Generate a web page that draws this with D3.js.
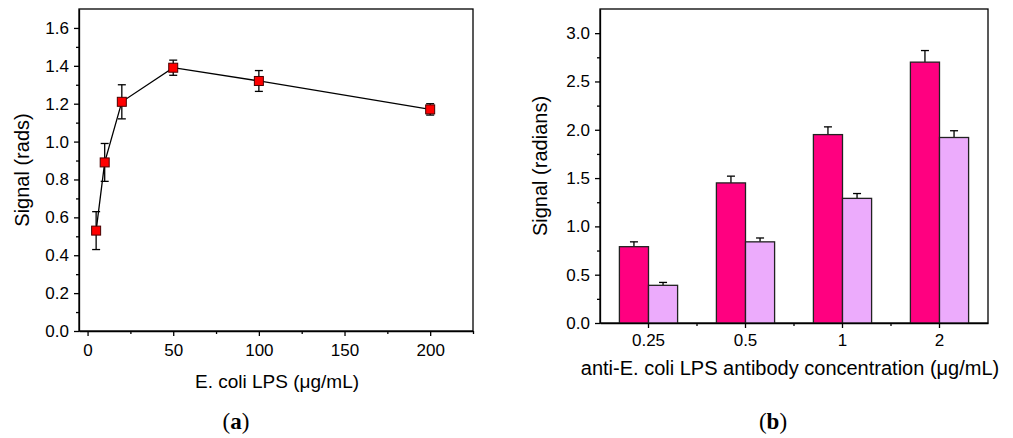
<!DOCTYPE html>
<html>
<head>
<meta charset="utf-8">
<script src="https://cdn.jsdelivr.net/npm/d3@7"></script>
<style>
    body { margin: 0; background: #fff; }
    svg { display: block; font-family: "Liberation Sans", Arial, sans-serif; }
    .axis path, .axis line { stroke: #000; stroke-width: 1.3; }
    .axis text { font-size: 17px; fill: #000; font-family: "Liberation Sans", Arial, sans-serif; }
    .title { font-size: 19px; fill: #000; }
    .title--wide { font-size: 20px; }
    .title--y { font-size: 20px; }
    .panelLabel { font-family: "Liberation Serif", "Times New Roman", serif; font-size: 23px; }
</style>
</head>
<body>
<svg id="chart" width="1013" height="438"></svg>
<script>
// ----- DATA -----------------------------------------------------------
// panel (a): signal vs E. coli LPS concentration
const lpsConc   = [5, 10, 20, 50, 100, 200];
const lpsSignal = [0.53, 0.89, 1.21, 1.39, 1.32, 1.17];
const lpsError  = [0.10, 0.10, 0.09, 0.04, 0.055, 0.03];
const aXTicks   = [0, 50, 100, 150, 200];
const aYTicks   = [0, 0.2, 0.4, 0.6, 0.8, 1.0, 1.2, 1.4, 1.6];

// panel (b): signal vs antibody concentration, two series
const antibodyConc = ["0.25", "0.5", "1", "2"];
const seriesPink     = [0.79, 1.45, 1.95, 2.70];
const seriesPinkErr  = [0.05, 0.07, 0.08, 0.12];
const seriesLilac    = [0.39, 0.84, 1.29, 1.92];
const seriesLilacErr = [0.03, 0.04, 0.05, 0.07];
const bYTicks = [0, 0.5, 1.0, 1.5, 2.0, 2.5, 3.0];

const svg = d3.select("#chart");

function panelLabel( g, x, letter )
{
    let lab = g.append("text").attr("class", "panelLabel")
        .attr("x", x).attr("y", 429).attr("text-anchor", "middle");
    lab.append("tspan").text("(");
    lab.append("tspan").attr("font-weight", "bold").text(letter);
    lab.append("tspan").text(")");
}

// ----- PANEL A --------------------------------------------------------
function drawPanelA()
{
    const box = { left: 79, right: 473, top: 9, bottom: 331 };

    let x = d3.scaleLinear().domain([-5, 225]).range([box.left, box.right]);
    let y = d3.scaleLinear().domain([0, 1.7]).range([box.bottom, box.top]);

    let g = svg.append("g");

    // frame (top & right lines)
    g.append("rect")
        .attr("x", box.left).attr("y", box.top)
        .attr("width", box.right - box.left).attr("height", box.bottom - box.top)
        .attr("fill", "none").attr("stroke", "#000").attr("stroke-width", 1.3);

    // minor ticks
    g.append("g").attr("class", "axis")
        .attr("transform", "translate(0," + box.bottom + ")")
        .call(d3.axisBottom(x).tickValues([25, 75, 125, 175, 225]).tickSize(3).tickFormat(""))
        .select(".domain").remove();
    g.append("g").attr("class", "axis")
        .attr("transform", "translate(" + box.left + ",0)")
        .call(d3.axisLeft(y).tickValues(d3.range(0.1, 1.7, 0.2)).tickSize(3).tickFormat(""))
        .select(".domain").remove();

    g.append("g").attr("class", "axis")
        .attr("transform", "translate(0," + box.bottom + ")")
        .call(d3.axisBottom(x).tickValues(aXTicks).tickSize(5).tickPadding(5).tickSizeOuter(0))
        .selectAll("text").attr("dy", "0.88em");
    g.append("g").attr("class", "axis")
        .attr("transform", "translate(" + box.left + ",0)")
        .call(d3.axisLeft(y).tickValues(aYTicks).tickSize(5).tickPadding(5).tickSizeOuter(0)
            .tickFormat(d3.format(".1f")));

    // connecting line
    const pts = lpsConc.map((c, i) => [c, lpsSignal[i], lpsError[i]]);
    g.append("path")
        .datum(pts)
        .attr("fill", "none").attr("stroke", "#000").attr("stroke-width", 1.3)
        .attr("d", d3.line().x(d => x(d[0])).y(d => y(d[1])));

    // error bars
    let eb = g.selectAll(".eb").data(pts).enter().append("g")
        .attr("stroke", "#000").attr("stroke-width", 1.3);
    eb.append("line")
        .attr("x1", d => x(d[0])).attr("x2", d => x(d[0]))
        .attr("y1", d => y(d[1] - d[2])).attr("y2", d => y(d[1] + d[2]));
    eb.append("line")
        .attr("x1", d => x(d[0]) - 4).attr("x2", d => x(d[0]) + 4)
        .attr("y1", d => y(d[1] + d[2])).attr("y2", d => y(d[1] + d[2]));
    eb.append("line")
        .attr("x1", d => x(d[0]) - 4).attr("x2", d => x(d[0]) + 4)
        .attr("y1", d => y(d[1] - d[2])).attr("y2", d => y(d[1] - d[2]));

    // square markers
    g.selectAll(".marker").data(pts).enter().append("rect")
        .attr("x", d => x(d[0]) - 4.5).attr("y", d => y(d[1]) - 4.5)
        .attr("width", 9).attr("height", 9)
        .attr("fill", "#ff0000").attr("stroke", "#4a0000").attr("stroke-width", 1);

    g.append("text").attr("class", "title")
        .attr("x", 277).attr("y", 388)
        .attr("text-anchor", "middle")
        .text("E. coli LPS (μg/mL)");

    g.append("text").attr("class", "title title--y")
        .attr("transform", "translate(29," + ((box.top + box.bottom) / 2) + ") rotate(-90)")
        .attr("text-anchor", "middle")
        .text("Signal (rads)");

    panelLabel( g, 236, "a" );
}

// ----- PANEL B --------------------------------------------------------
function drawPanelB()
{
    const box = { left: 600, right: 988, top: 9, bottom: 323 };

    let x = d3.scaleBand().domain(antibodyConc).range([box.left, box.right]);
    let y = d3.scaleLinear().domain([0, 3.25]).range([box.bottom, box.top]);
    const barW = x.bandwidth() * 0.3;

    let g = svg.append("g");

    g.append("rect")
        .attr("x", box.left).attr("y", box.top)
        .attr("width", box.right - box.left).attr("height", box.bottom - box.top)
        .attr("fill", "none").attr("stroke", "#000").attr("stroke-width", 1.3);

    const series = [
        { values: seriesPink,  errors: seriesPinkErr,  colour: "#ff0080", offset: -1 },
        { values: seriesLilac, errors: seriesLilacErr, colour: "#ecabfc", offset: 0 }
    ];

    series.forEach(s => {
        const rows = antibodyConc.map((c, i) => ({ c: c, v: s.values[i], e: s.errors[i] }));
        const bx = d => x(d.c) + x.bandwidth() / 2 + s.offset * barW;

        // error bars (upper only)
        let eb = g.selectAll(null).data(rows).enter().append("g")
            .attr("stroke", "#000").attr("stroke-width", 1.3);
        eb.append("line")
            .attr("x1", d => bx(d) + barW / 2).attr("x2", d => bx(d) + barW / 2)
            .attr("y1", d => y(d.v)).attr("y2", d => y(d.v + d.e));
        eb.append("line")
            .attr("x1", d => bx(d) + barW / 2 - 4).attr("x2", d => bx(d) + barW / 2 + 4)
            .attr("y1", d => y(d.v + d.e)).attr("y2", d => y(d.v + d.e));

        g.selectAll(null).data(rows).enter().append("rect")
            .attr("x", bx).attr("y", d => y(d.v))
            .attr("width", barW).attr("height", d => y(0) - y(d.v))
            .attr("fill", s.colour).attr("stroke", "#222").attr("stroke-width", 1.3);
    });

    // minor ticks between categories
    const between = antibodyConc.slice(1).map(c => x(c));
    let mt = g.append("g").attr("class", "axis");
    mt.selectAll("line").data(between).enter().append("line")
        .attr("x1", d => d).attr("x2", d => d)
        .attr("y1", box.bottom).attr("y2", box.bottom + 3);

    g.append("g").attr("class", "axis")
        .attr("transform", "translate(" + box.left + ",0)")
        .call(d3.axisLeft(y).tickValues(d3.range(0.25, 3.25, 0.5)).tickSize(3).tickFormat(""))
        .select(".domain").remove();

    g.append("g").attr("class", "axis")
        .attr("transform", "translate(0," + box.bottom + ")")
        .call(d3.axisBottom(x).tickSize(5).tickPadding(4).tickSizeOuter(0))
        .selectAll("text").attr("dy", "0.82em");
    g.append("g").attr("class", "axis")
        .attr("transform", "translate(" + box.left + ",0)")
        .call(d3.axisLeft(y).tickValues(bYTicks).tickSize(5).tickPadding(5).tickSizeOuter(0)
            .tickFormat(d3.format(".1f")));

    g.append("text").attr("class", "title title--wide")
        .attr("x", 790).attr("y", 375)
        .attr("text-anchor", "middle")
        .text("anti-E. coli LPS antibody concentration (μg/mL)");

    g.append("text").attr("class", "title title--y")
        .attr("transform", "translate(547," + ((box.top + box.bottom) / 2) + ") rotate(-90)")
        .attr("text-anchor", "middle")
        .text("Signal (radians)");

    panelLabel( g, 773, "b" );
}

drawPanelA();
drawPanelB();
</script>
</body>
</html>
